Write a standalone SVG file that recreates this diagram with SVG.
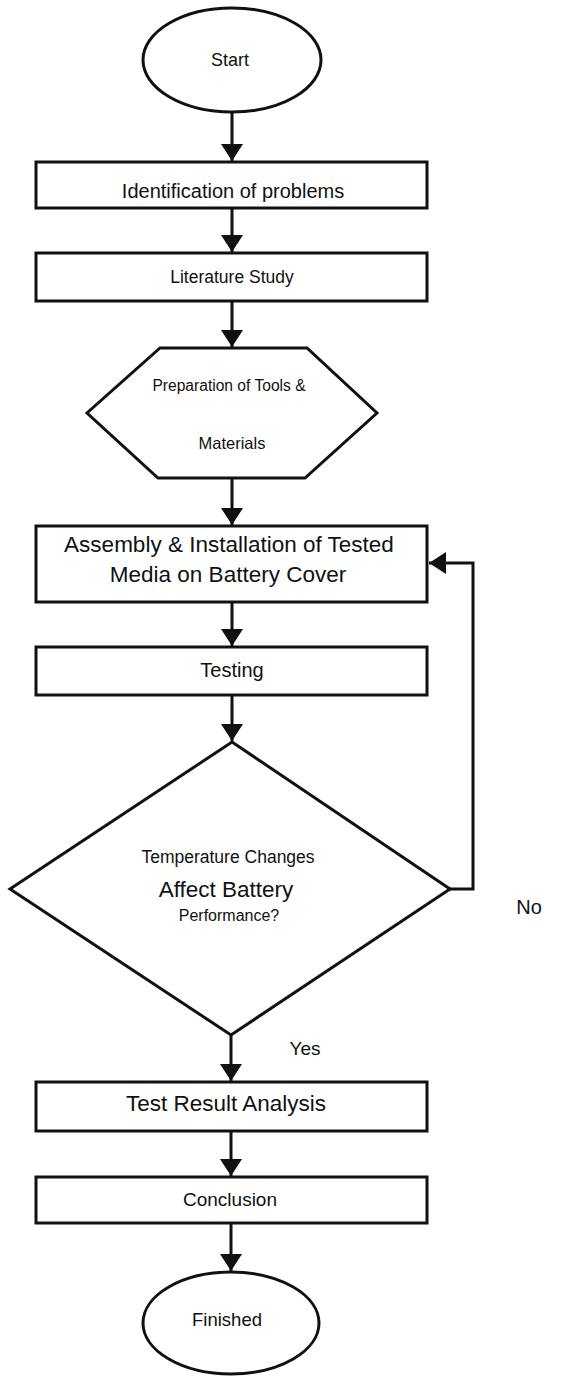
<svg xmlns="http://www.w3.org/2000/svg" width="576" height="1376" viewBox="0 0 576 1376">
<style>
.shape{fill:#fff;stroke:#111;stroke-width:3}
.conn{fill:none;stroke:#111;stroke-width:3}
text{font-family:"Liberation Sans",Arial,sans-serif;fill:#111;text-anchor:middle}
</style>
<defs>
<marker id="arr" markerUnits="userSpaceOnUse" markerWidth="18" markerHeight="22" viewBox="0 0 18 22" refX="17" refY="11" orient="auto">
<path d="M0,0 L17,11 L0,22 z" fill="#111"/>
</marker>
</defs>
<rect width="576" height="1376" fill="#fff"/>
<g id="connectors">
<line class="conn" x1="232" y1="112" x2="232" y2="161" marker-end="url(#arr)"/>
<line class="conn" x1="232" y1="208" x2="232" y2="252" marker-end="url(#arr)"/>
<line class="conn" x1="232" y1="301" x2="232" y2="347" marker-end="url(#arr)"/>
<line class="conn" x1="232" y1="478" x2="232" y2="525" marker-end="url(#arr)"/>
<line class="conn" x1="232" y1="602" x2="232" y2="646" marker-end="url(#arr)"/>
<line class="conn" x1="232" y1="695" x2="232" y2="741" marker-end="url(#arr)"/>
<line class="conn" x1="231" y1="1035" x2="231" y2="1081" marker-end="url(#arr)"/>
<line class="conn" x1="231" y1="1131" x2="231" y2="1176" marker-end="url(#arr)"/>
<line class="conn" x1="231" y1="1223" x2="231" y2="1271" marker-end="url(#arr)"/>
<polyline class="conn" points="450,889 473,889 473,563 429,563" marker-end="url(#arr)"/>
</g>
<g id="start">
<ellipse class="shape" cx="232" cy="60" rx="89" ry="52"/>
<text x="230" y="66" font-size="18">Start</text>
</g>
<g id="identification">
<rect class="shape" x="36" y="162" width="391" height="46"/>
<text x="233" y="198" font-size="20">Identification of problems</text>
</g>
<g id="literature">
<rect class="shape" x="36" y="253" width="391" height="48"/>
<text x="232" y="283" font-size="17.5">Literature Study</text>
</g>
<g id="preparation">
<polygon class="shape" points="160,348 307,348 377,413 305,478 158,478 87,413"/>
<text x="229" y="391" font-size="15.6">Preparation of Tools &amp;</text>
<text x="232" y="449" font-size="16.5">Materials</text>
</g>
<g id="assembly">
<rect class="shape" x="36" y="526" width="391" height="76"/>
<text x="229" y="552" font-size="22.5">Assembly &amp; Installation of Tested</text>
<text x="228" y="582" font-size="22.5">Media on Battery Cover</text>
</g>
<g id="testing">
<rect class="shape" x="36" y="647" width="391" height="48"/>
<text x="232" y="677" font-size="20">Testing</text>
</g>
<g id="decision">
<polygon class="shape" points="232,742 450,889 231,1035 10,889"/>
<text x="228" y="863" font-size="17.5">Temperature Changes</text>
<text x="226" y="897" font-size="22.5">Affect Battery</text>
<text x="229" y="921" font-size="16">Performance?</text>
</g>
<g id="labels">
<text x="529" y="914" font-size="20">No</text>
<text x="305" y="1055" font-size="19">Yes</text>
</g>
<g id="analysis">
<rect class="shape" x="36" y="1082" width="391" height="49"/>
<text x="226" y="1111" font-size="22.5">Test Result Analysis</text>
</g>
<g id="conclusion">
<rect class="shape" x="36" y="1177" width="391" height="46"/>
<text x="230" y="1206" font-size="19">Conclusion</text>
</g>
<g id="finished">
<ellipse class="shape" cx="231" cy="1323" rx="88" ry="51"/>
<text x="227" y="1326" font-size="18.5">Finished</text>
</g>
</svg>
